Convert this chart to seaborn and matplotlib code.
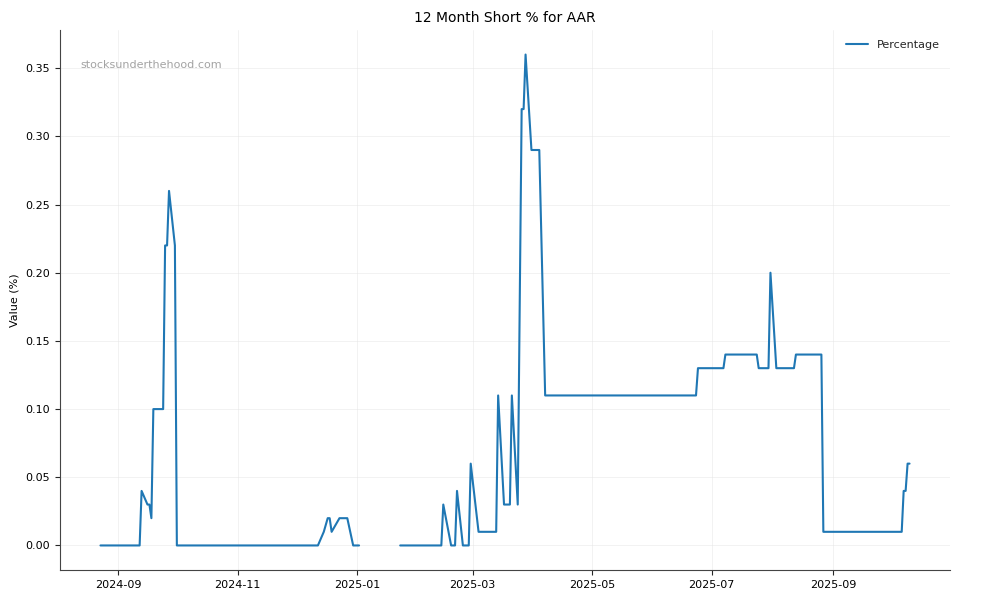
import pandas as pd
import numpy as np
import matplotlib
matplotlib.use("Agg")
import matplotlib.pyplot as plt
import matplotlib.dates as mdates
import seaborn as sns

# Short % readings (values in percent), gaps split into segments
dates_1 = ["2024-08-23", "2024-09-12", "2024-09-13", "2024-09-16", "2024-09-17",
           "2024-09-18", "2024-09-19", "2024-09-24", "2024-09-25", "2024-09-26",
           "2024-09-27", "2024-09-30", "2024-10-01",
           "2024-12-12", "2024-12-15", "2024-12-17", "2024-12-18", "2024-12-19",
           "2024-12-23", "2024-12-27", "2024-12-30", "2025-01-02"]
values_1 = [0.00, 0.00, 0.04, 0.03, 0.03,
            0.02, 0.10, 0.10, 0.22, 0.22,
            0.26, 0.22, 0.00,
            0.00, 0.01, 0.02, 0.02, 0.01,
            0.02, 0.02, 0.00, 0.00]

dates_2 = ["2025-01-23", "2025-02-13", "2025-02-14", "2025-02-18", "2025-02-20",
           "2025-02-21", "2025-02-24", "2025-02-27", "2025-02-28", "2025-03-04",
           "2025-03-13", "2025-03-14", "2025-03-17", "2025-03-20", "2025-03-21",
           "2025-03-24", "2025-03-26", "2025-03-27", "2025-03-28", "2025-03-31",
           "2025-04-04", "2025-04-07", "2025-06-23", "2025-06-24", "2025-07-07",
           "2025-07-08", "2025-07-24", "2025-07-25", "2025-07-30", "2025-07-31",
           "2025-08-03", "2025-08-12", "2025-08-13", "2025-08-26", "2025-08-27",
           "2025-10-06", "2025-10-07", "2025-10-08", "2025-10-09", "2025-10-10"]
values_2 = [0.00, 0.00, 0.03, 0.00, 0.00,
            0.04, 0.00, 0.00, 0.06, 0.01,
            0.01, 0.11, 0.03, 0.03, 0.11,
            0.03, 0.32, 0.32, 0.36, 0.29,
            0.29, 0.11, 0.11, 0.13, 0.13,
            0.14, 0.14, 0.13, 0.13, 0.20,
            0.13, 0.13, 0.14, 0.14, 0.01,
            0.01, 0.04, 0.04, 0.06, 0.06]

df = pd.concat([
    pd.DataFrame({"date": pd.to_datetime(dates_1), "value": values_1, "segment": 1}),
    pd.DataFrame({"date": pd.to_datetime(dates_2), "value": values_2, "segment": 2}),
], ignore_index=True)

sns.set_style("ticks")
plt.rcParams["font.family"] = ["DejaVu Sans"]

fig, ax = plt.subplots(figsize=(10, 6), dpi=100)
fig.subplots_adjust(left=0.06, right=0.95, bottom=0.05, top=0.95)

sns.lineplot(data=df, x="date", y="value", units="segment", estimator=None,
             color="#1f77b4", linewidth=1.5, ax=ax)

ax.set_title("12 Month Short % for AAR", fontsize=10, color="black")
ax.set_xlabel("")
ax.set_ylabel("Value (%)", fontsize=8, color="black")
ax.tick_params(labelsize=8, labelcolor="black")
ax.xaxis.set_major_locator(mdates.MonthLocator(bymonth=[1, 3, 5, 7, 9, 11]))
ax.xaxis.set_major_formatter(mdates.DateFormatter("%Y-%m"))
ax.yaxis.set_major_formatter(matplotlib.ticker.FormatStrFormatter("%.2f"))
ax.grid(True, color="#e6e6e6", linewidth=0.6, alpha=0.6)
sns.despine(ax=ax)
for s in ["left", "bottom"]:
    ax.spines[s].set_color("#444444")

ax.text(0.023, 0.935, "stocksunderthehood.com", transform=ax.transAxes,
        fontsize=8, color="#999999", alpha=0.9, va="center", ha="left")

ax.legend(handles=[ax.lines[0]], labels=["Percentage"], loc="upper right",
          frameon=False, fontsize=8)

plt.savefig("out.png", dpi=100)
plt.close()
